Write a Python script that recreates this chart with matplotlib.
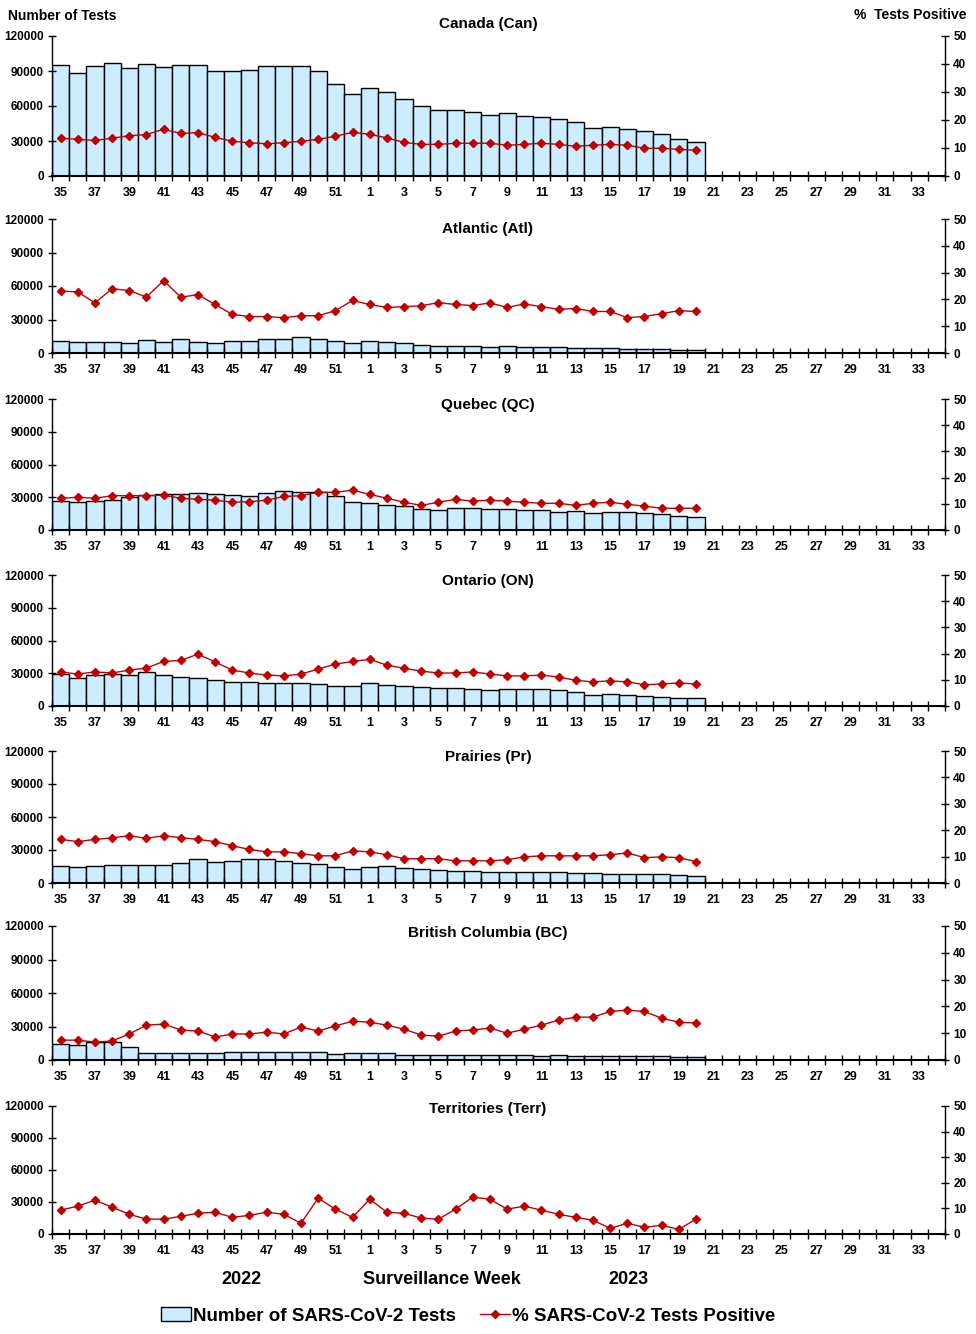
import matplotlib
matplotlib.use('Agg')
import matplotlib.pyplot as plt
from matplotlib.patches import Patch
from matplotlib.lines import Line2D

plt.rcParams['font.family'] = ['Liberation Sans', 'DejaVu Sans']
plt.rcParams['font.weight'] = 'bold'

weeks = [str(w) for w in list(range(35, 53)) + list(range(1, 35))]

regions = ['Canada (Can)', 'Atlantic (Atl)', 'Quebec (QC)', 'Ontario (ON)',
           'Prairies (Pr)', 'British Columbia (BC)', 'Territories (Terr)']

can_tests = [95000, 88000, 94000, 96500, 92500, 96000, 93000, 95000, 95000, 90000,
             90000, 90500, 94000, 94000, 94000, 90000, 79000, 70000, 75000, 71700,
             65700, 59700, 56300, 56300, 54600, 52000, 53700, 51100, 50300, 48600,
             46000, 40800, 41700, 40000, 38300, 35700, 31400, 28900]
can_pct = [13.5, 13.1, 12.7, 13.5, 14.4, 14.8, 16.7, 15.2, 15.5, 13.8,
           12.4, 11.9, 11.5, 11.9, 12.4, 13.1, 14.2, 15.6, 14.9, 13.6,
           12.0, 11.3, 11.3, 11.7, 11.7, 11.7, 11.0, 11.3, 11.7, 11.3,
           10.6, 11.0, 11.3, 11.0, 9.9, 9.9, 9.5, 9.2]

atl_tests = [10400, 9500, 9500, 9500, 8600, 11300, 9500, 12500, 9500, 8600,
             10400, 10400, 12500, 12500, 14300, 12500, 10400, 8600, 10400, 9500,
             8600, 6800, 5900, 5900, 5900, 5000, 6200, 5000, 5000, 5000,
             4200, 4200, 4200, 3300, 3300, 3300, 2400, 2400]
atl_pct = [23.1, 22.8, 18.7, 24.0, 23.3, 20.9, 27.0, 20.8, 21.8, 18.1,
           14.4, 13.6, 13.6, 13.2, 13.9, 13.9, 15.8, 19.6, 18.1, 17.0,
           17.3, 17.6, 18.8, 18.1, 17.7, 18.7, 17.0, 18.3, 17.3, 16.3,
           16.6, 15.5, 15.5, 13.2, 13.6, 14.7, 15.8, 15.5]

qc_tests = [26300, 25400, 26300, 27200, 30000, 31800, 32700, 32700, 33700, 32700,
            31800, 30900, 33700, 35500, 34600, 34600, 30900, 25400, 24500, 22600,
            21700, 19000, 18100, 19900, 19900, 19000, 19000, 18100, 18100, 16200,
            17100, 15300, 16200, 16200, 15300, 14400, 12500, 11600]
qc_pct = [12.1, 12.5, 12.1, 13.1, 13.1, 13.1, 13.3, 12.1, 11.7, 11.4,
          10.6, 10.8, 11.4, 12.8, 13.1, 14.4, 14.4, 15.2, 13.6, 12.1,
          10.6, 9.4, 10.6, 11.7, 11.0, 11.4, 11.0, 10.6, 10.2, 10.2,
          9.4, 10.2, 10.6, 9.8, 9.1, 8.3, 8.3, 8.3]

on_tests = [29300, 25700, 28400, 29300, 28400, 31100, 28400, 26600, 25700, 23900,
            22000, 22000, 21100, 21100, 21100, 20200, 18400, 18400, 21100, 19300,
            18400, 17500, 16600, 16600, 15700, 14800, 15700, 15700, 15700, 14800,
            13000, 10300, 11200, 10300, 9400, 8500, 7600, 7600]
on_pct = [13.0, 12.2, 13.0, 12.6, 13.7, 14.5, 17.0, 17.4, 19.8, 16.8,
          13.7, 12.6, 11.8, 11.5, 12.2, 14.1, 16.0, 17.0, 17.8, 15.6,
          14.4, 13.3, 12.6, 12.6, 13.0, 12.2, 11.5, 11.5, 11.8, 11.1,
          9.8, 9.2, 9.6, 9.2, 8.1, 8.4, 8.8, 8.4]

pr_tests = [15100, 14200, 15100, 16000, 16000, 16000, 16000, 17800, 21400, 18700,
            19600, 21400, 21400, 19600, 17800, 16900, 14200, 12400, 14200, 15100,
            13300, 12400, 11500, 10600, 10600, 9600, 9600, 9600, 9600, 9600,
            8700, 8700, 7800, 7800, 7800, 7800, 6900, 6000]
pr_pct = [16.5, 15.7, 16.5, 17.1, 17.9, 16.9, 17.9, 17.2, 16.5, 15.7,
          14.1, 12.7, 11.8, 11.8, 11.1, 10.3, 10.3, 12.2, 11.8, 10.7,
          9.2, 9.2, 9.2, 8.4, 8.4, 8.4, 8.8, 9.9, 10.3, 10.3,
          10.3, 10.3, 10.7, 11.4, 9.6, 9.9, 9.6, 8.1]

bc_tests = [14300, 13400, 16100, 16100, 11600, 6300, 6300, 6300, 6300, 6300,
            7200, 7200, 7200, 7200, 7200, 7200, 5400, 6300, 6300, 6300,
            4500, 4500, 4500, 4500, 4500, 4500, 4500, 4500, 3600, 4500,
            3600, 3600, 3600, 3600, 3600, 3600, 2700, 2700]
bc_pct = [7.4, 7.4, 6.7, 7.1, 9.7, 13.0, 13.4, 11.2, 10.8, 8.6,
          9.7, 9.7, 10.4, 9.7, 12.3, 10.8, 12.7, 14.5, 14.1, 13.0,
          11.5, 9.3, 8.9, 10.8, 11.2, 11.9, 10.0, 11.5, 13.0, 14.9,
          16.0, 16.0, 18.1, 18.6, 18.1, 15.6, 14.1, 13.8]

terr_tests = [300, 300, 300, 300, 300, 300, 300, 300, 300, 300,
              300, 300, 300, 300, 300, 300, 300, 300, 300, 300,
              300, 300, 300, 300, 300, 300, 300, 300, 300, 300,
              300, 300, 300, 300, 300, 300, 300, 300]
terr_pct = [9.3, 10.9, 13.2, 10.5, 7.7, 5.8, 5.8, 6.9, 8.1, 8.5,
            6.5, 7.3, 8.5, 7.7, 4.2, 14.0, 9.7, 6.5, 13.6, 8.5,
            8.1, 6.2, 5.8, 9.7, 14.4, 13.6, 9.7, 10.9, 9.3, 7.7,
            6.5, 5.4, 2.2, 4.2, 2.6, 3.4, 1.8, 5.8]

tests = [can_tests, atl_tests, qc_tests, on_tests, pr_tests, bc_tests, terr_tests]
pct = [can_pct, atl_pct, qc_pct, on_pct, pr_pct, bc_pct, terr_pct]

# panel top/bottom in pixels, title y in pixels
panel_px = [(36, 176), (219, 353), (399, 530), (575, 706), (751, 883), (926, 1060), (1106, 1234)]
title_px = [24, 229, 405, 581, 757, 933, 1109]

W, H = 976, 1334
fig = plt.figure(figsize=(W / 100, H / 100), dpi=100)

bar_color = '#CCECFF'
line_color = '#C00000'
left_px, right_px = 52, 945

for i in range(7):
    top, bot = panel_px[i]
    ax = fig.add_axes([left_px / W, 1 - bot / H, (right_px - left_px) / W, (bot - top) / H])
    x = list(range(len(tests[i])))
    ax.bar(x, tests[i], width=1.0, color=bar_color, edgecolor='black', linewidth=1.0)
    ax.set_xlim(-0.5, len(weeks) - 0.5)
    ax.set_ylim(0, 120000)
    ax.set_yticks([0, 30000, 60000, 90000, 120000])
    ax.tick_params(axis='y', direction='inout', length=6, width=1, labelsize=8.5, pad=3)
    ax.set_xticks(range(0, len(weeks), 2))
    ax.set_xticklabels(weeks[::2])
    ax.set_xticks([k - 0.5 for k in range(len(weeks) + 1)], minor=True)
    ax.tick_params(axis='x', which='major', length=0, labelsize=9, pad=8)
    ax.tick_params(axis='x', which='minor', direction='inout', length=7, width=1)
    for lab in ax.get_xticklabels() + ax.get_yticklabels():
        lab.set_fontweight('bold')
    ax.spines['top'].set_visible(False)
    ax.spines['right'].set_visible(False)
    ax.spines['left'].set_linewidth(1)
    ax.spines['bottom'].set_linewidth(1.5)

    ax2 = ax.twinx()
    ax2.plot(x, pct[i], color=line_color, linewidth=1.0, marker='D', markersize=4.5,
             markerfacecolor=line_color, markeredgecolor=line_color)
    ax2.set_ylim(0, 50)
    ax2.set_yticks([0, 10, 20, 30, 40, 50])
    ax2.tick_params(axis='y', direction='inout', length=6, width=1, labelsize=8.5, pad=3)
    for lab in ax2.get_yticklabels():
        lab.set_fontweight('bold')
    ax2.spines['top'].set_visible(False)
    ax2.spines['left'].set_visible(False)
    ax2.spines['bottom'].set_visible(False)
    ax2.spines['right'].set_linewidth(1)

    fig.text(488 / W, 1 - title_px[i] / H, regions[i], ha='center', va='center',
             fontsize=11, fontweight='bold')

fig.text(8 / W, 1 - 16 / H, 'Number of Tests', ha='left', va='center', fontsize=10, fontweight='bold')
fig.text(966 / W, 1 - 15 / H, '%  Tests Positive', ha='right', va='center', fontsize=10, fontweight='bold')

fig.text(241 / W, 1 - 1280 / H, '2022', ha='center', va='center', fontsize=13, fontweight='bold')
fig.text(442 / W, 1 - 1280 / H, 'Surveillance Week', ha='center', va='center', fontsize=13, fontweight='bold')
fig.text(628 / W, 1 - 1280 / H, '2023', ha='center', va='center', fontsize=13, fontweight='bold')

handles = [Patch(facecolor=bar_color, edgecolor='black', linewidth=1.0),
           Line2D([0], [0], color=line_color, linewidth=1.0, marker='D', markersize=4)]
fig.legend(handles, ['Number of SARS-CoV-2 Tests', '% SARS-CoV-2 Tests Positive'],
           loc='center', bbox_to_anchor=(468 / W, 1 - 1316 / H), ncol=2, frameon=False,
           prop={'size': 13.5, 'weight': 'bold'}, handlelength=1.6, handletextpad=0.1,
           columnspacing=1.3)

fig.savefig('out.png', dpi=100)
